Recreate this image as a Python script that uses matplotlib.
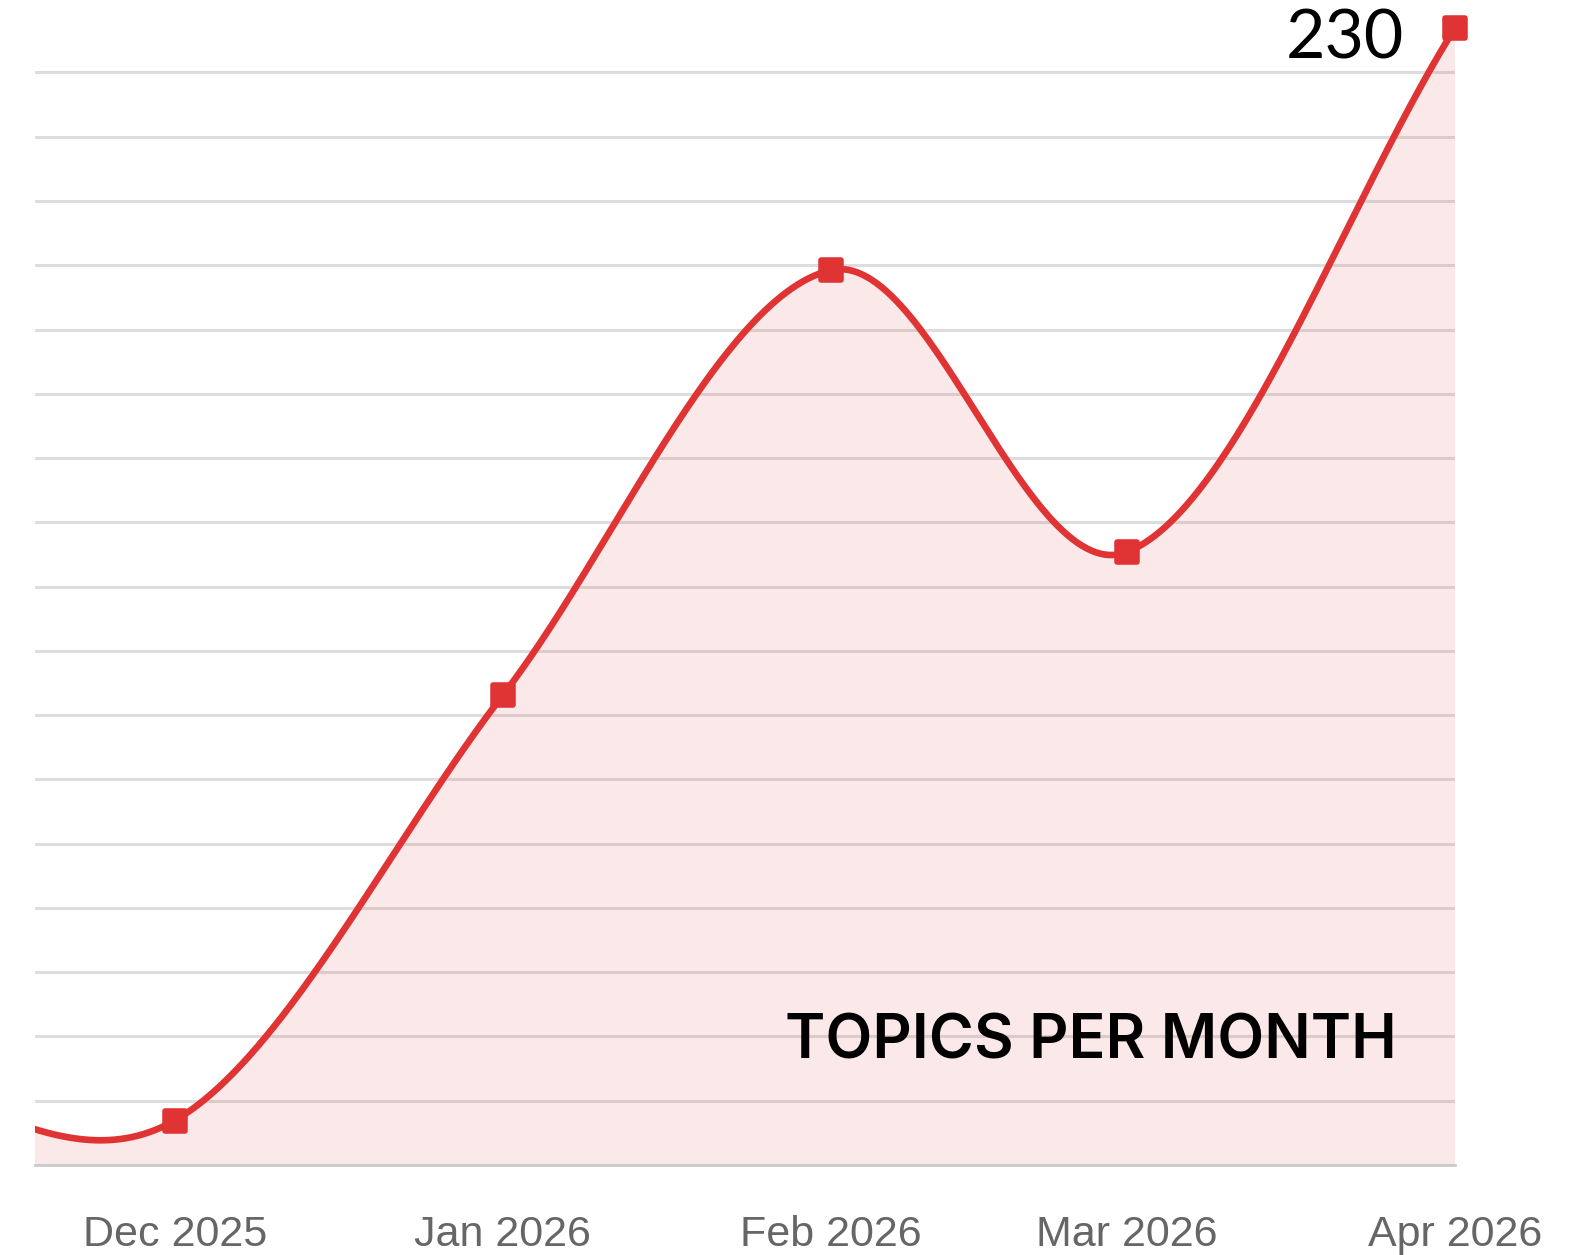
import numpy as np
import matplotlib
matplotlib.use('Agg')
import matplotlib.pyplot as plt
import matplotlib.dates as mdates
from matplotlib.markers import MarkerStyle

# monthly topic counts (Nov 2025 sits just left of the visible window)
months = ['2025-11-01', '2025-12-01', '2026-01-01', '2026-02-01', '2026-03-01', '2026-04-01']
topics = [20, 9, 95, 181, 124, 230]
tick_labels = ['Dec 2025', 'Jan 2026', 'Feb 2026', 'Mar 2026', 'Apr 2026']

x = mdates.date2num(np.array(months, dtype='datetime64[D]'))
y = np.array(topics, dtype=float)

# smooth curve: cubic hermite with catmull-rom style tangents
m = np.zeros_like(y)
m[1:-1] = (y[2:] - y[:-2]) / (x[2:] - x[:-2])
m[0] = (y[1] - y[0]) / (x[1] - x[0])
m[-1] = (y[-1] - y[-2]) / (x[-1] - x[-2])
xs, ys = [], []
for i in range(len(x) - 1):
    h = x[i + 1] - x[i]
    t = np.linspace(0, 1, 120)
    h00 = 2 * t**3 - 3 * t**2 + 1
    h10 = t**3 - 2 * t**2 + t
    h01 = -2 * t**3 + 3 * t**2
    h11 = t**3 - t**2
    xs.append(x[i] + t * h)
    ys.append(h00 * y[i] + h10 * h * m[i] + h01 * y[i + 1] + h11 * h * m[i + 1])
xs = np.concatenate(xs)
ys = np.concatenate(ys)

red = '#e03434'

fig = plt.figure(figsize=(15.71, 12.55), dpi=100)
ax = fig.add_axes([0.02228, 0.07171, 0.90388, 0.90598])

ax.set_yticks(np.arange(0, 222, 13))
ax.grid(axis='y', color='#dddddd', linewidth=2.2, zorder=0)
ax.set_axisbelow(True)

ax.fill_between(xs, ys, 0, color=red, alpha=0.11, linewidth=0, zorder=1)
ax.plot(xs, ys, color=red, linewidth=4.8, zorder=3, solid_capstyle='round')
ax.plot(x, y, linestyle='none', marker=MarkerStyle('s', joinstyle='round'),
        markersize=14, markerfacecolor=red, markeredgecolor=red,
        markeredgewidth=4, zorder=4, clip_on=False)

ax.set_xlim(x[1] - 13.2, x[-1])
ax.set_ylim(0, 230)

ax.set_xticks(x[1:])
ax.set_xticklabels(tick_labels, fontsize=31, color='#666666', family='Liberation Sans')
ax.tick_params(axis='x', length=0, pad=36)
ax.tick_params(axis='y', length=0, labelleft=False)

for s in ['top', 'right', 'left']:
    ax.spines[s].set_visible(False)
ax.spines['bottom'].set_color('#cccccc')
ax.spines['bottom'].set_linewidth(2)

ax.annotate('230', xy=(x[-1], y[-1]), xytext=(-37, -8), textcoords='offset points',
            ha='right', va='center', fontsize=49, family='Lato', color='black',
            annotation_clip=False)

ax.text(0.9592, 0.0941, 'TOPICS PER MONTH', transform=ax.transAxes, ha='right',
        va='baseline', fontsize=44, fontweight='semibold', family='Inter', color='black')

fig.savefig('out.png', dpi=100)
